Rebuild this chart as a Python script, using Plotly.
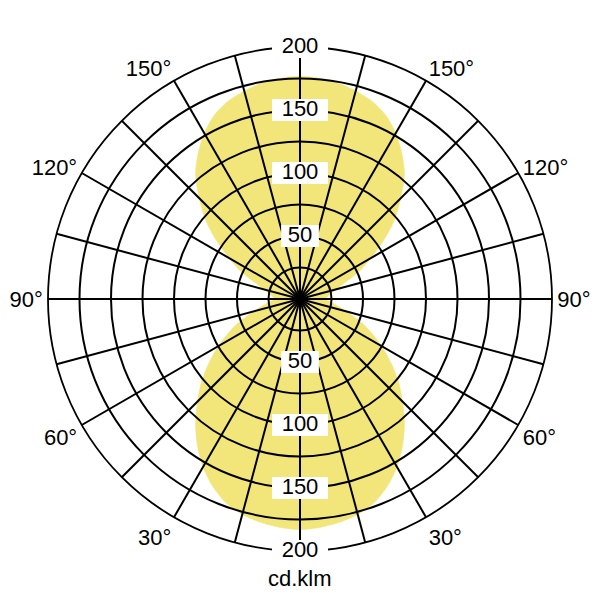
import plotly.graph_objects as go

# ---- data ----
gamma = list(range(0, 181, 5))  # degrees from nadir
intensity = [183, 182, 180, 177, 172, 164, 154, 142, 129, 115, 102, 88, 75, 62, 50, 38, 30, 24, 20,
             22, 25, 30, 38, 52, 65, 81, 98, 113, 129, 141, 152, 161, 167, 171, 174, 176, 177]  # cd/klm

angle_labels = [30, 60, 90, 120, 150]
radial_grid = [25, 50, 75, 100, 125, 150, 175, 200]
radial_labels = [50, 100, 150, 200]
unit_label = "cd.klm"

YELLOW = "rgb(242,230,122)"
FONT = "Arial, Liberation Sans, sans-serif"

# mirrored curve (right half: gamma, left half: 360 - gamma)
theta_closed = gamma + [360 - g for g in reversed(gamma)]
r_closed = intensity + list(reversed(intensity))

fig = go.Figure()
fig.add_trace(go.Scatterpolar(
    r=r_closed, theta=theta_closed, mode="lines", fill="toself",
    fillcolor=YELLOW, line=dict(color=YELLOW, width=0.5, shape="spline", smoothing=0.8),
    subplot="polar", hoverinfo="skip", showlegend=False))

# radial value labels with white boxes, on the 0/180 axis
lab_r = radial_labels + radial_labels
lab_theta = [180] * len(radial_labels) + [0] * len(radial_labels)
lab_text = [str(v) for v in lab_r]
fig.add_trace(go.Scatterpolar(
    r=lab_r, theta=lab_theta, text=lab_text, mode="markers+text",
    textposition="middle center",
    textfont=dict(size=22, family=FONT, color="black"),
    marker=dict(symbol="line-ew", size=[13 * len(t) + 1 for t in lab_text],
                color="white", opacity=1, line=dict(color="white", width=22)),
    cliponaxis=False, subplot="polar2", hoverinfo="skip", showlegend=False))

tickvals = list(range(0, 360, 15))
ticktext = []
for a in tickvals:
    if a in angle_labels:
        ticktext.append(f"{a}°")
    elif (360 - a) in angle_labels:
        ticktext.append(f"{360 - a}°")
    else:
        ticktext.append("")

common_ang = dict(rotation=-90, direction="counterclockwise")
full = dict(x=[0, 1], y=[0, 1])

fig.update_layout(
    width=600, height=600,
    margin=dict(l=48, r=48, t=47, b=49),
    paper_bgcolor="white",
    showlegend=False,
    polar=dict(
        domain=full,
        bgcolor="white",
        radialaxis=dict(range=[0, 200], showgrid=False, showticklabels=False,
                        showline=False, ticks=""),
        angularaxis=dict(**common_ang, showgrid=False, showticklabels=False,
                         showline=False, ticks=""),
    ),
    polar2=dict(
        domain=full,
        bgcolor="rgba(0,0,0,0)",
        radialaxis=dict(range=[0, 200], tickvals=radial_grid, showgrid=True,
                        gridcolor="black", gridwidth=1.7, showticklabels=False,
                        showline=False, ticks="", layer="below traces"),
        angularaxis=dict(**common_ang, tickvals=tickvals, ticktext=ticktext,
                         showgrid=True, gridcolor="black", gridwidth=1.7,
                         showline=True, linecolor="black", linewidth=1.8, ticks="",
                         tickfont=dict(size=22, family=FONT, color="black"),
                         layer="below traces"),
    ),
    annotations=[dict(text=unit_label, x=0.5, y=-0.055, xref="paper", yref="paper",
                      showarrow=False, yanchor="middle",
                      font=dict(size=22, family=FONT, color="black"))],
)

fig.write_html("out.html", config={"displayModeBar": False},
               post_script="document.body.style.margin='0';document.body.style.overflow='hidden';")
